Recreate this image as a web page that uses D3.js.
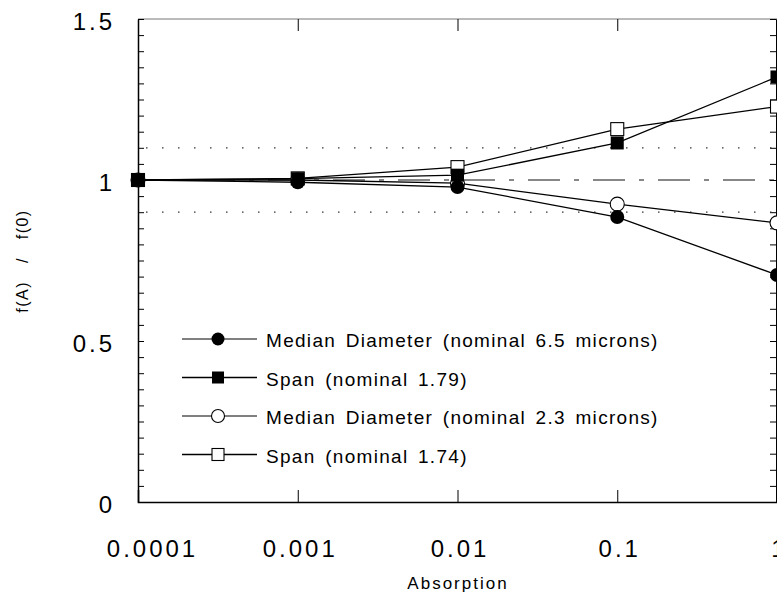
<!DOCTYPE html>
<html>
<head>
<meta charset="utf-8">
<script src="https://cdn.jsdelivr.net/npm/d3@7"></script>
<style>
  body { margin: 0; background: #fff; }
  svg { display: block; font-family: "Liberation Sans", Arial, Helvetica, sans-serif; }
</style>
</head>
<body>
<div class="chart"></div>
<script>

const FRAME_WIDTH = 777;
const FRAME_HEIGHT = 594;
const MARGINS = {left: 138, right: 0, top: 19, bottom: 92};

// data
const ABSORPTION = [0.0001, 0.001, 0.01, 0.1, 1];
const MEDIAN_65 = [1.0, 0.993, 0.978, 0.885, 0.705];
const SPAN_179 = [1.0, 1.004, 1.015, 1.115, 1.32];
const MEDIAN_23 = [1.0, 1.0, 0.99, 0.925, 0.867];
const SPAN_174 = [1.0, 1.005, 1.04, 1.158, 1.228];

const SERIES_NAMES = ["Median Diameter (nominal 6.5 microns)",
                      "Span (nominal 1.79)",
                      "Median Diameter (nominal 2.3 microns)",
                      "Span (nominal 1.74)"];
const SERIES_VALUES = [MEDIAN_65, SPAN_179, MEDIAN_23, SPAN_174];
const SERIES_MARKERS = ["circle-filled", "square-filled", "circle-open", "square-open"];

const X_TICKS = [0.0001, 0.001, 0.01, 0.1, 1];
const X_TICK_LABELS = ["0.0001", "0.001", "0.01", "0.1", "1"];
const Y_TICKS = [0, 0.5, 1, 1.5];
const Y_MINOR = d3.range(0, 31).map((i) => i * 0.05);
const REF_LINES = [0.9, 1.1];

const PLOT_WIDTH = FRAME_WIDTH - MARGINS.left - MARGINS.right;
const PLOT_HEIGHT = FRAME_HEIGHT - MARGINS.top - MARGINS.bottom;

const FRAME = d3.select(".chart")
                .append("svg")
                .attr("width", FRAME_WIDTH)
                .attr("height", FRAME_HEIGHT);

const X_SCALE = d3.scaleLog()
                  .domain([0.0001, 1])
                  .range([MARGINS.left, MARGINS.left + PLOT_WIDTH]);

const Y_SCALE = d3.scaleLinear()
                  .domain([0, 1.5])
                  .range([MARGINS.top + PLOT_HEIGHT, MARGINS.top]);

// frame lines
FRAME.append("line")
     .attr("x1", X_SCALE(0.0001)).attr("x2", X_SCALE(1))
     .attr("y1", Y_SCALE(1.5)).attr("y2", Y_SCALE(1.5))
     .attr("stroke", "#777").attr("stroke-width", 1);

// minor y ticks, left and right (inward)
const LEFT_AX = FRAME.append("g")
    .attr("transform", "translate(" + X_SCALE(0.0001) + ",0)")
    .call(d3.axisRight(Y_SCALE).tickValues(Y_MINOR).tickSize(6).tickFormat(""));
LEFT_AX.select(".domain").remove();

const RIGHT_AX = FRAME.append("g")
    .attr("transform", "translate(" + (X_SCALE(1) - 1) + ",0)")
    .call(d3.axisLeft(Y_SCALE).tickValues(Y_MINOR).tickSize(6).tickFormat(""));
RIGHT_AX.select(".domain").attr("stroke-width", 1);

// left axis line + labels
const Y_LABELS = FRAME.append("g")
    .attr("transform", "translate(" + X_SCALE(0.0001) + ",0)")
    .call(d3.axisLeft(Y_SCALE).tickValues(Y_TICKS).tickSize(0).tickPadding(23)
          .tickFormat(d3.format("~g")));
Y_LABELS.select(".domain").attr("stroke-width", 1.5);
Y_LABELS.selectAll("text")
    .attr("font-size", "24px")
    .attr("letter-spacing", "3px")
    .attr("dy", "0.45em")
    .attr("font-family", "Liberation Sans, Arial, sans-serif");

// top ticks (down)
const TOP_AX = FRAME.append("g")
    .attr("transform", "translate(0," + Y_SCALE(1.5) + ")")
    .call(d3.axisBottom(X_SCALE).tickValues(X_TICKS).tickSize(12).tickFormat(""));
TOP_AX.select(".domain").remove();

// bottom axis (ticks up) + labels
const X_AX = FRAME.append("g")
    .attr("transform", "translate(0," + Y_SCALE(0) + ")")
    .call(d3.axisTop(X_SCALE).tickValues(X_TICKS).tickSize(12)
          .tickFormat((d, i) => X_TICK_LABELS[i]));
X_AX.select(".domain").attr("stroke-width", 1.5);
X_AX.selectAll("text")
    .attr("y", 55)
    .attr("dy", 0)
    .attr("font-size", "24px")
    .attr("letter-spacing", "3px")
    .attr("font-family", "Liberation Sans, Arial, sans-serif")
    .attr("dx", (d, i) => i === 0 ? 14 : 2);

// reference lines
FRAME.selectAll(".refline")
     .data(REF_LINES)
     .enter().append("line")
     .attr("class", "refline")
     .attr("x1", X_SCALE(0.0001) + 8).attr("x2", X_SCALE(1))
     .attr("y1", (d) => Y_SCALE(d)).attr("y2", (d) => Y_SCALE(d))
     .attr("stroke", "#333").attr("stroke-width", 1.3)
     .attr("stroke-dasharray", "1.5,14.5");

FRAME.append("line")
     .attr("x1", X_SCALE(0.0001)).attr("x2", X_SCALE(1))
     .attr("y1", Y_SCALE(1)).attr("y2", Y_SCALE(1))
     .attr("stroke", "#111").attr("stroke-width", 1.2)
     .attr("stroke-dasharray", "32,14,5,14");

// series lines
const LINE = d3.line()
               .x((d, i) => X_SCALE(ABSORPTION[i]))
               .y((d) => Y_SCALE(d));

FRAME.selectAll(".series")
     .data(SERIES_VALUES)
     .enter().append("path")
     .attr("class", "series")
     .attr("d", (d) => LINE(d))
     .attr("fill", "none")
     .attr("stroke", "#000")
     .attr("stroke-width", 1.3);

function drawMarker(g, type, x, y, big) {
    const r = big ? 7 : 6.5;
    const s = big ? 13 : 12;
    if (type === "circle-filled") {
        g.append("circle").attr("cx", x).attr("cy", y).attr("r", r).attr("fill", "#000");
    } else if (type === "circle-open") {
        g.append("circle").attr("cx", x).attr("cy", y).attr("r", r)
         .attr("fill", "#fff").attr("stroke", "#000").attr("stroke-width", 1.1);
    } else if (type === "square-filled") {
        g.append("rect").attr("x", x - s / 2).attr("y", y - s / 2)
         .attr("width", s).attr("height", s).attr("fill", "#000");
    } else {
        g.append("rect").attr("x", x - s / 2).attr("y", y - s / 2)
         .attr("width", s).attr("height", s)
         .attr("fill", "#fff").attr("stroke", "#000").attr("stroke-width", 1.1);
    }
}

// markers: draw open ones first so filled ones sit above at overlap
const DRAW_ORDER = [3, 2, 1, 0];
const MARKS = FRAME.append("g");
DRAW_ORDER.forEach((si) => {
    SERIES_VALUES[si].forEach((v, i) => {
        drawMarker(MARKS, SERIES_MARKERS[si], X_SCALE(ABSORPTION[i]), Y_SCALE(v), true);
    });
});

// legend
const LEGEND = FRAME.append("g");
const LEG_Y0 = 339;
const LEG_STEP = 38.5;
SERIES_NAMES.forEach((name, i) => {
    const y = LEG_Y0 + i * LEG_STEP;
    LEGEND.append("line")
          .attr("x1", 182).attr("x2", 257)
          .attr("y1", y).attr("y2", y)
          .attr("stroke", "#000").attr("stroke-width", i % 2 === 0 ? 1 : 1.4);
    drawMarker(LEGEND, SERIES_MARKERS[i], 218, y, false);
    LEGEND.append("text")
          .attr("x", 266).attr("y", y + 8)
          .attr("font-size", "19px")
          .attr("letter-spacing", "1.3px")
          .attr("word-spacing", "3px")
          .text(name);
});

// axis titles
FRAME.append("text")
     .attr("x", 458).attr("y", 589)
     .attr("text-anchor", "middle")
     .attr("font-size", "17px")
     .attr("letter-spacing", "2px")
     .text("Absorption");

FRAME.append("text")
     .attr("transform", "translate(28,261) rotate(-90)")
     .attr("text-anchor", "middle")
     .attr("font-size", "16px")
     .attr("letter-spacing", "1.5px")
     .attr("xml:space", "preserve")
     .style("white-space", "pre")
     .text("f(A)   /   f(0)");

</script>
</body>
</html>
